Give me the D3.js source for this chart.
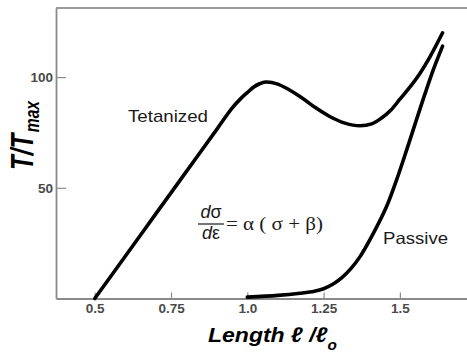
<!DOCTYPE html>
<html><head><meta charset="utf-8">
<script src="https://cdn.jsdelivr.net/npm/d3@7"></script>
<style>body{margin:0;background:#fff}svg{display:block}</style>
</head><body><svg id="c" width="467" height="356"></svg>
<script>
// ---- data ----
const xTicks = [0.5, 0.75, 1.0, 1.25, 1.5];
const xTickLabels = ["0.5", "0.75", "1.0", "1.25", "1.5"];
const yTicks = [50, 100];
const yTickLabels = ["50", "100"];
const tetanizedX = [0.5, 0.6, 0.7, 0.8, 0.9, 0.95, 0.98, 1.0, 1.02, 1.04, 1.06, 1.1, 1.17, 1.22, 1.27, 1.32, 1.369, 1.41, 1.44, 1.47, 1.5, 1.53, 1.56, 1.6, 1.64];
const tetanizedY = [0, 19.1, 38.2, 57.3, 76.4, 86.0, 90.5, 93.0, 95.4, 97.0, 97.8, 96.8, 91.5, 86.5, 82.2, 79.2, 78.0, 79.0, 81.5, 85.0, 90.0, 95.0, 100.5, 109.5, 120];
const passiveX = [1.0, 1.1, 1.173, 1.22, 1.25, 1.28, 1.31, 1.34, 1.369, 1.413, 1.456, 1.489, 1.522, 1.555, 1.58, 1.61, 1.64];
const passiveY = [0.6, 1.4, 2.4, 3.3, 4.4, 6.4, 9.4, 13.6, 18.8, 29.4, 41.4, 53.5, 67, 81, 91.5, 103.5, 114];

// ---- layout ----
const mLeft = 56, mRight = 467, mTop = 8, mBottom = 298.5;
const svg = d3.select("#c");
const x = d3.scaleLinear().domain([0.373, 1.72]).range([mLeft, mRight]);
const y = d3.scaleLinear().domain([0, 131.2]).range([mBottom, mTop]);
const axisCol = "#8a8a8a", labelCol = "#4a4a4a";
const sans = "Liberation Sans, Arial, sans-serif";

// frame: top line
svg.append("line").attr("x1", mLeft).attr("x2", mRight).attr("y1", mTop).attr("y2", mTop)
  .attr("stroke", "#9a9a9a").attr("stroke-width", 2);

// x axis
const gx = svg.append("g").attr("transform", `translate(0,${mBottom})`)
  .call(d3.axisBottom(x).tickValues(xTicks).tickFormat((d, i) => xTickLabels[i])
    .tickSizeInner(-6).tickSizeOuter(0).tickPadding(5));
gx.select(".domain").attr("stroke", axisCol).attr("stroke-width", 1.8);
gx.selectAll(".tick line").attr("stroke", axisCol).attr("stroke-width", 1.2);
gx.selectAll(".tick text").attr("fill", labelCol).attr("font-family", sans)
  .attr("font-size", 13.5).attr("font-weight", "bold");

// y axis
const gy = svg.append("g").attr("transform", `translate(${mLeft},0)`)
  .call(d3.axisLeft(y).tickValues(yTicks).tickFormat((d, i) => yTickLabels[i])
    .tickSizeInner(-10).tickSizeOuter(0).tickPadding(3));
gy.select(".domain").attr("stroke", axisCol).attr("stroke-width", 1.8);
gy.selectAll(".tick line").attr("stroke", axisCol).attr("stroke-width", 1.2);
gy.selectAll(".tick text").attr("fill", labelCol).attr("font-family", sans)
  .attr("font-size", 13.5).attr("font-weight", "bold");

// curves
const line = d3.line().x(d => x(d[0])).y(d => y(d[1])).curve(d3.curveCatmullRom.alpha(0.5));
const tet = tetanizedX.map((v, i) => [v, tetanizedY[i]]);
const pas = passiveX.map((v, i) => [v, passiveY[i]]);
[tet, pas].forEach(data => {
  svg.append("path").datum(data).attr("d", line).attr("fill", "none")
    .attr("stroke", "#000").attr("stroke-width", 3.6).attr("stroke-linecap", "round");
});

// labels
svg.append("text").attr("x", 128).attr("y", 122).attr("font-family", sans).attr("font-size", 17)
  .attr("fill", "#1a1a1a").attr("textLength", 80).attr("lengthAdjust", "spacingAndGlyphs").text("Tetanized");
svg.append("text").attr("x", 383).attr("y", 244).attr("font-family", sans).attr("font-size", 16.5)
  .attr("fill", "#1a1a1a").attr("textLength", 65).attr("lengthAdjust", "spacingAndGlyphs").text("Passive");

// equation
const eq = svg.append("g").attr("font-family", sans).attr("fill", "#1a1a1a");
const num = eq.append("text").attr("x", 211).attr("y", 218).attr("text-anchor", "middle").attr("font-size", 18);
num.append("tspan").attr("font-style", "italic").text("d");
num.append("tspan").text("σ");
const den = eq.append("text").attr("x", 211).attr("y", 239).attr("text-anchor", "middle").attr("font-size", 18);
den.append("tspan").attr("font-style", "italic").text("d");
den.append("tspan").text("ε");
eq.append("line").attr("x1", 198).attr("x2", 224).attr("y1", 224).attr("y2", 224)
  .attr("stroke", "#1a1a1a").attr("stroke-width", 1.2);
eq.append("text").attr("x", 226).attr("y", 230).attr("font-size", 18)
  .attr("font-family", "Liberation Serif, Times New Roman, serif")
  .attr("textLength", 97).attr("lengthAdjust", "spacingAndGlyphs").text("= α ( σ + β)");

// x title
const xt = svg.append("text").attr("x", 208).attr("y", 342).attr("font-family", sans)
  .attr("font-size", 21).attr("font-weight", "bold").attr("font-style", "italic").attr("fill", "#000");
xt.append("tspan").text("Length ℓ /ℓ");
xt.append("tspan").attr("font-size", 14).attr("dy", 8).text("o");
xt.attr("textLength", 129).attr("lengthAdjust", "spacingAndGlyphs");

// y title
const yt = svg.append("g").attr("transform", "translate(33,170) rotate(-90) scale(0.78,1)");
const ytt = yt.append("text").attr("x", 0).attr("y", 0).attr("font-family", sans)
  .attr("font-size", 31).attr("font-weight", "bold").attr("font-style", "italic").attr("fill", "#000");
ytt.append("tspan").text("T/T");
ytt.append("tspan").attr("font-size", 20).attr("dy", 6).attr("dx", 2).text("max");
</script>
</body></html>
